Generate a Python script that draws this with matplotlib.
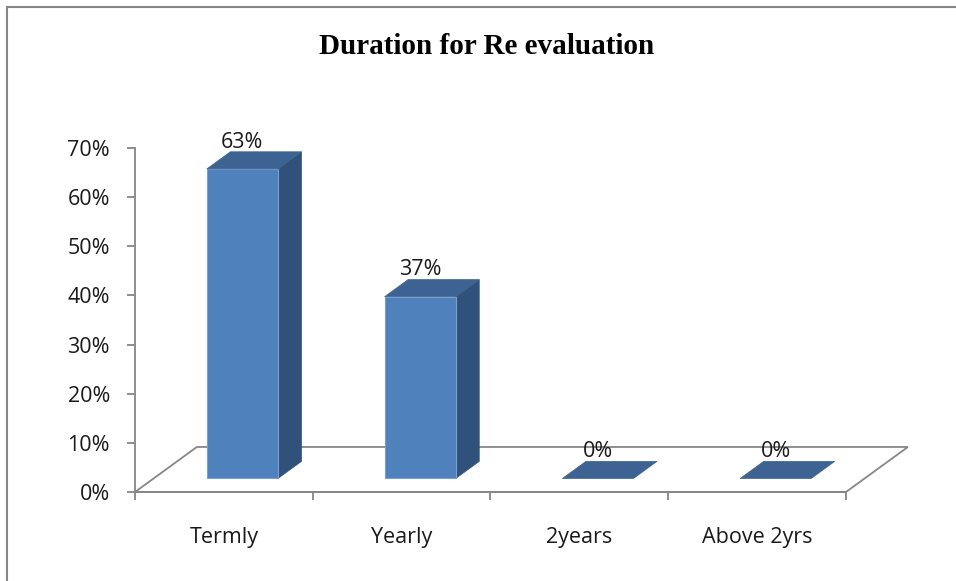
import matplotlib
matplotlib.use("Agg")
import matplotlib.pyplot as plt
from matplotlib.patches import Polygon
from matplotlib.lines import Line2D

categories = ["Termly", "Yearly", "2years", "Above 2yrs"]
values = [63, 37, 0, 0]
labels = ["63%", "37%", "0%", "0%"]
y_ticks = [0, 10, 20, 30, 40, 50, 60, 70]

# fake 3d: full floor depth as an offset in data units
DEPTH_X = 0.348
DEPTH_Y = 9.16
BAR_FRONT = 0.30
BAR_BACK = 0.68
BAR_HALF = 0.20

GRID = "#868686"
FRONT = "#4F81BD"
TOP = "#3C6391"
SIDE = "#30527A"
TXT = "#1a1a1a"
FS = 15.5

plt.rcParams["font.family"] = ["Open Sans", "DejaVu Sans"]

W, H = 956, 581
fig = plt.figure(figsize=(W / 100, H / 100), dpi=100)
ax = fig.add_axes([135 / W, (H - 492) / H, 711 / W, 344 / H])
ax.set_xlim(-0.5, len(categories) - 0.5)
ax.set_ylim(0, 70)


def proj(x, y, d):
    return (x + d * DEPTH_X, y + d * DEPTH_Y)


# floor
n = len(categories)
floor = [proj(-0.5, 0, 0), proj(n - 0.5, 0, 0), proj(n - 0.5, 0, 1), proj(-0.5, 0, 1)]
ax.add_patch(Polygon(floor, closed=True, facecolor="white", edgecolor=GRID,
                     lw=1.3, clip_on=False, zorder=1))

for i, v in enumerate(values):
    l, r = i - BAR_HALF, i + BAR_HALF
    if v > 0:
        front = [proj(l, 0, BAR_FRONT), proj(r, 0, BAR_FRONT), proj(r, v, BAR_FRONT), proj(l, v, BAR_FRONT)]
        side = [proj(r, 0, BAR_FRONT), proj(r, 0, BAR_BACK), proj(r, v, BAR_BACK), proj(r, v, BAR_FRONT)]
        ax.add_patch(Polygon(side, closed=True, facecolor=SIDE, edgecolor=SIDE, lw=0.5,
                             clip_on=False, zorder=2))
        ax.add_patch(Polygon(front, closed=True, facecolor=FRONT, edgecolor="#7C9FCF", lw=0.8,
                             clip_on=False, zorder=3))
    top = [proj(l, v, BAR_FRONT), proj(r, v, BAR_FRONT), proj(r, v, BAR_BACK), proj(l, v, BAR_BACK)]
    ax.add_patch(Polygon(top, closed=True, facecolor=TOP, edgecolor=TOP, lw=0.5,
                         clip_on=False, zorder=3))
    ax.annotate(labels[i], proj(i, v, BAR_BACK), xytext=(-17, 7), textcoords="offset points",
                ha="center", va="center", fontsize=FS, color=TXT, zorder=4,
                annotation_clip=False)

for s in ["top", "right"]:
    ax.spines[s].set_visible(False)
for s in ["left", "bottom"]:
    ax.spines[s].set_color(GRID)
    ax.spines[s].set_linewidth(1.3)

ax.set_yticks(y_ticks)
ax.set_yticklabels([f"{t}%" for t in y_ticks])
ax.set_xticks([i - 0.5 for i in range(n + 1)])
ax.set_xticklabels([])
ax.set_xticks(range(n), minor=True)
ax.set_xticklabels(categories, minor=True)
ax.tick_params(axis="both", which="major", color=GRID, width=1.3, length=6,
               labelsize=FS, labelcolor=TXT)
ax.tick_params(axis="y", pad=12)
ax.tick_params(axis="x", which="minor", length=0, pad=25, labelsize=FS, labelcolor=TXT)
ax.set_facecolor("none")

fig.text(487 / W, 1 - 46 / H, "Duration for Re evaluation", ha="center", va="center",
         family="Liberation Serif", fontweight="bold", fontsize=21)

# chart border (left and top only, the rest is cropped)
fig.add_artist(Line2D([7 / W, 7 / W], [0, 1 - 7 / H], color=GRID, lw=1.5))
fig.add_artist(Line2D([7 / W, 1], [1 - 7 / H, 1 - 7 / H], color=GRID, lw=1.5))

fig.savefig("out.png", dpi=100)
